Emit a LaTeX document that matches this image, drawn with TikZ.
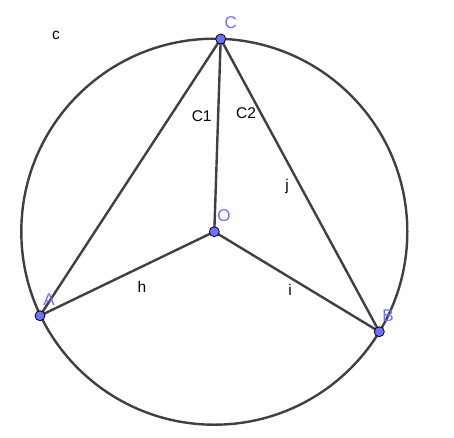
\documentclass[tikz,border=0pt]{standalone}
\usepackage{fontspec}
\setmainfont{Liberation Sans}
\begin{document}
\begin{tikzpicture}[x=1pt,y=-1pt,
  seg/.style={draw=black!75, line width=2.4pt},
  pt/.style={circle, fill={rgb,255:red,112;green,112;blue,255}, draw=black, line width=0.8pt, minimum size=10pt, inner sep=0pt},
  plab/.style={text={rgb,255:red,110;green,110;blue,255}, font=\fontsize{17}{19}\selectfont, inner sep=0pt},
  slab/.style={text=black, font=\fontsize{15.5}{17}\selectfont, inner sep=0pt}]
\useasboundingbox (0,0) rectangle (454,437);
\coordinate (Oc) at (214.3,231.7);
\draw[seg] (Oc) circle (193);
\coordinate (A) at (40,315.7);
\coordinate (B) at (379.3,331.7);
\coordinate (C) at (220.7,39);
\draw[seg] (A) -- (C);
\draw[seg] (C) -- (B);
\draw[seg] (C) -- (Oc);
\draw[seg] (Oc) -- (A);
\draw[seg] (Oc) -- (B);
\node[pt] (pA) at (A) {};
\node[pt] (pB) at (B) {};
\node[pt] (pC) at (C) {};
\node[pt] (pO) at (Oc) {};
\node[plab] (lA) at (49,300) {A};
\node[plab] (lB) at (388,316) {B};
\node[plab] (lC) at (230.7,22.7) {C};
\node[plab] (lO) at (224,216) {O};
\node[slab] (lC1) at (201.7,116) {C1};
\node[slab] (lC2) at (246,113) {C2};
\node[slab] (lj) at (287,186) {j};
\node[slab] (lh) at (142,286.7) {h};
\node[slab] (li) at (290,290) {i};
\node[slab] (lc) at (56,35) {c};
\end{tikzpicture}
\end{document}
